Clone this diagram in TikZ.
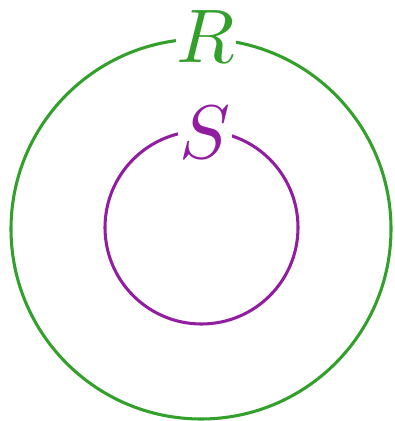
\documentclass[tikz,border=0pt]{standalone}
\usepackage{graphicx}
\definecolor{cgreen}{RGB}{51,160,44}
\definecolor{cpurple}{RGB}{145,30,160}
\begin{document}
\begin{tikzpicture}[x=0.75pt,y=-0.75pt,
  ring/.style={line width=2.3pt},
  lbl/.style={fill=white,inner sep=1pt}]
\useasboundingbox (0,0) rectangle (394,421);
\draw[ring,cgreen] (201,229) circle[radius=190*0.75pt];
\draw[ring,cpurple] (201.5,227.5) circle[radius=96.5*0.75pt];
\node[lbl,text=cgreen] (R) at (206,37) {\scalebox{5.7}{$R$}};
\node[lbl,text=cpurple] (S) at (205,133) {\scalebox{5.7}{$S$}};
\end{tikzpicture}
\end{document}
